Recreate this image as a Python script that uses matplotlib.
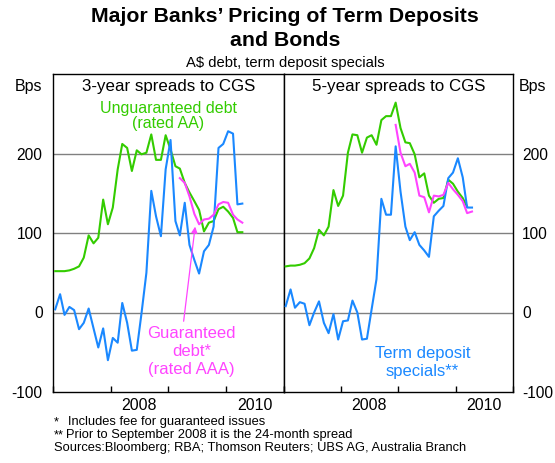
import datetime as dt

import matplotlib
matplotlib.use('Agg')
import matplotlib.pyplot as plt
import matplotlib.dates as mdates
import pandas as pd

plt.rcParams['font.family'] = ['Liberation Sans', 'DejaVu Sans']

# monthly observations, plotted mid-month, first month Jan 2007
start = '2007-01-01'

# 3-year spreads to CGS (bps)
unguar_3y = [52, 52, 52, 53, 55, 58, 69, 97, 87, 94,
             142, 111, 132, 180, 212, 207, 178, 204, 199, 201,
             224, 192, 192, 223, 205, 184, 181, 163, 151, 140,
             129, 102, 113, 115, 130, 133, 127, 119, 101, 101]
td_3y = [4, 23, -3, 7, 3, -21, -13, 5, -20, -44,
         -20, -60, -32, -38, 12, -13, -48, -47, -1, 50,
         153, 121, 96, 180, 217, 115, 97, 138, 85, 66,
         49, 77, 85, 108, 207, 212, 228, 225, 136, 137]
guar_3y_start = '2009-03-01'
guar_3y = [169, 163, 146, 124, 111, 117, 118, 123, 136, 139, 138, 123, 117, 113]

# 5-year spreads to CGS (bps)
unguar_5y = [58, 59, 59, 60, 62, 68, 81, 104, 97, 108,
             154, 134, 147, 201, 224, 223, 201, 220, 223, 211,
             242, 247, 247, 264, 232, 214, 213, 199, 170, 175,
             147, 138, 143, 144, 167, 162, 152, 144, 133]
td_5y = [8, 29, 6, 13, 11, -16, 0, 14, -13, -26,
         -2, -34, -11, -10, 15, 0, -34, -33, 4, 42,
         143, 123, 123, 209, 152, 108, 91, 101, 85, 78,
         70, 121, 128, 134, 169, 176, 194, 170, 132, 132]
guar_5y_start = '2008-12-01'
guar_5y = [236, 201, 184, 187, 176, 147, 145, 126, 147, 146, 148, 163, 155, 148, 140, 125, 127]

green = '#33CC00'
blue = '#1A88FF'
pink = '#FF44FF'


def months(first, n):
    return pd.date_range(first, periods=n, freq='MS') + pd.Timedelta(days=14)


def style_panel(ax, side):
    ax.set_xlim(dt.datetime(2007, 1, 1), dt.datetime(2011, 1, 1))
    ax.set_ylim(-100, 300)
    for y in (0, 100, 200):
        ax.axhline(y, color='#808080', lw=1, zorder=1)
    for s in ax.spines.values():
        s.set_color('black')
        s.set_linewidth(1)
    ax.set_yticks([-100, 0, 100, 200])
    ax.set_yticklabels(['-100', '0', '100', '200'])
    if side == 'left':
        ax.tick_params(axis='y', left=False, right=False, labelleft=True,
                       labelright=False, labelsize=11.2, pad=4)
    else:
        ax.tick_params(axis='y', left=False, right=False, labelleft=False,
                       labelright=True, labelsize=11.2, pad=3)
    ax.xaxis.set_major_locator(mdates.YearLocator())
    ax.xaxis.set_major_formatter(plt.NullFormatter())
    ax.set_xticks([dt.datetime(2008, 7, 1), dt.datetime(2010, 7, 1)], minor=True)
    ax.set_xticklabels(['2008', '2010'], minor=True)
    ax.tick_params(axis='x', which='major', direction='in', length=4,
                   width=1, color='black')
    ax.tick_params(axis='x', which='minor', length=0, labelsize=11.5, pad=4)


fig = plt.figure(figsize=(5.55, 4.63), dpi=100)
ax1 = fig.add_axes([53 / 555, 71 / 463, 230.5 / 555, 318 / 463])
ax2 = fig.add_axes([283.5 / 555, 71 / 463, 229.5 / 555, 318 / 463])

# left panel
style_panel(ax1, 'left')
ax1.plot(months(start, len(unguar_3y)), unguar_3y, color=green, lw=1.5, zorder=3)
ax1.plot(months(start, len(td_3y)), td_3y, color=blue, lw=1.5, zorder=3)
ax1.plot(months(guar_3y_start, len(guar_3y)), guar_3y, color=pink, lw=1.5, zorder=4)

ax1.text(0.503, 0.960, '3-year spreads to CGS', transform=ax1.transAxes,
         ha='center', va='center', fontsize=12.2)
ax1.text(0.5, 0.892, 'Unguaranteed debt', transform=ax1.transAxes,
         ha='center', va='center', fontsize=11.5, color=green)
ax1.text(0.5, 0.845, '(rated AA)', transform=ax1.transAxes,
         ha='center', va='center', fontsize=11.5, color=green)
ax1.text(0.6, 0.1855, 'Guaranteed', transform=ax1.transAxes,
         ha='center', va='center', fontsize=12, color=pink)
ax1.text(0.6, 0.1267, 'debt*', transform=ax1.transAxes,
         ha='center', va='center', fontsize=12, color=pink)
ax1.text(0.6, 0.0692, '(rated AAA)', transform=ax1.transAxes,
         ha='center', va='center', fontsize=12, color=pink)
ax1.annotate('', xy=(dt.datetime(2009, 6, 20), 108),
             xytext=(dt.datetime(2009, 4, 8), -11),
             arrowprops=dict(arrowstyle='-|>', color=pink, lw=0.9,
                             mutation_scale=9, shrinkA=0, shrinkB=0),
             zorder=5)

# right panel
style_panel(ax2, 'right')
ax2.plot(months(start, len(unguar_5y)), unguar_5y, color=green, lw=1.5, zorder=3)
ax2.plot(months(start, len(td_5y)), td_5y, color=blue, lw=1.5, zorder=3)
ax2.plot(months(guar_5y_start, len(guar_5y)), guar_5y, color=pink, lw=1.5, zorder=4)

ax2.text(0.503, 0.960, '5-year spreads to CGS', transform=ax2.transAxes,
         ha='center', va='center', fontsize=12.2)
ax2.text(0.606, 0.1217, 'Term deposit', transform=ax2.transAxes,
         ha='center', va='center', fontsize=12, color=blue)
ax2.text(0.606, 0.0638, 'specials**', transform=ax2.transAxes,
         ha='center', va='center', fontsize=12, color=blue)

# titles and units
fig.text(0.5135, 1 - 17 / 463, 'Major Banks\u2019 Pricing of Term Deposits',
         ha='center', va='center', fontsize=15.3, fontweight='bold')
fig.text(0.5135, 1 - 41 / 463, 'and Bonds',
         ha='center', va='center', fontsize=15.3, fontweight='bold')
fig.text(0.5135, 1 - 63 / 463, 'A$ debt, term deposit specials',
         ha='center', va='center', fontsize=10.6)
fig.text(29 / 555, 1 - 86 / 463, 'Bps', ha='center', va='center', fontsize=11.5)
fig.text(533 / 555, 1 - 86 / 463, 'Bps', ha='center', va='center', fontsize=11.5)

# footnotes
fs = 9.3
fig.text(54 / 555, 1 - 422 / 463, '*', ha='left', va='center', fontsize=fs)
fig.text(68 / 555, 1 - 422 / 463, 'Includes fee for guaranteed issues',
         ha='left', va='center', fontsize=fs)
fig.text(54 / 555, 1 - 435 / 463, '**', ha='left', va='center', fontsize=fs)
fig.text(66 / 555, 1 - 435 / 463, 'Prior to September 2008 it is the 24-month spread',
         ha='left', va='center', fontsize=fs)
fig.text(54 / 555, 1 - 448 / 463,
         'Sources:Bloomberg; RBA; Thomson Reuters; UBS AG, Australia Branch',
         ha='left', va='center', fontsize=fs)

fig.savefig('out.png', dpi=100)
